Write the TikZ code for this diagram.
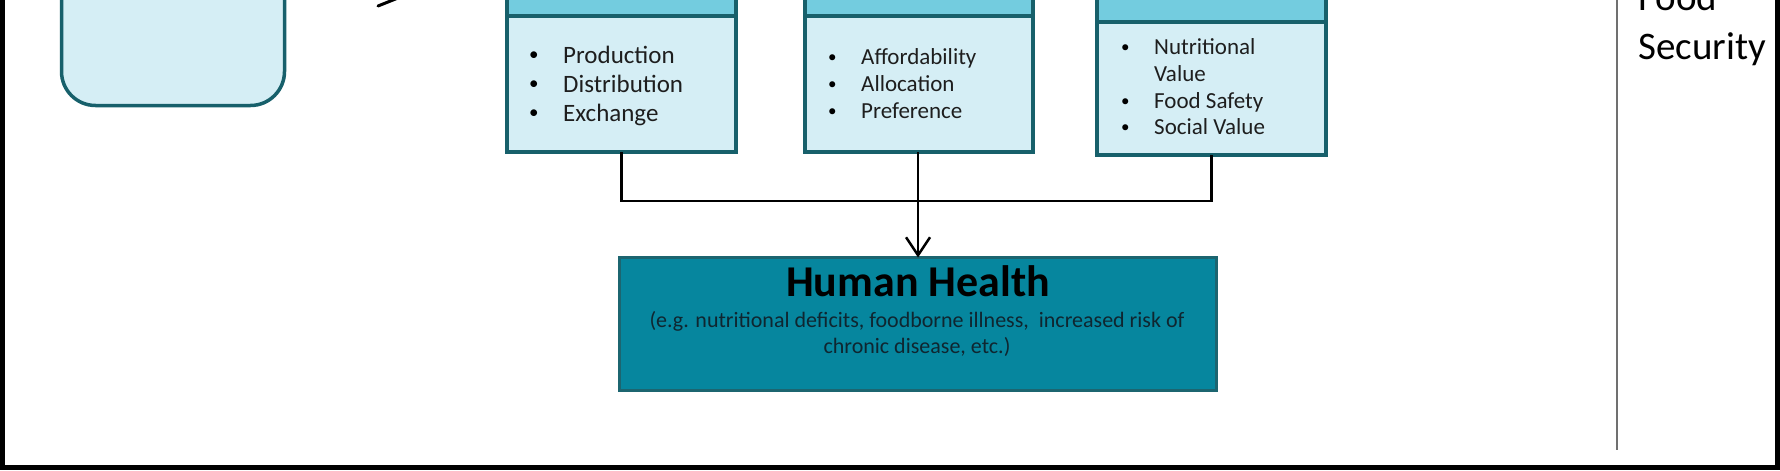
\documentclass[tikz,border=0pt]{standalone}
\usepackage{fontspec}
\setmainfont{Carlito}
\usetikzlibrary{arrows.meta}
\definecolor{hdr}{HTML}{73CCDF}
\definecolor{bodyc}{HTML}{D5EEF5}
\definecolor{edgec}{HTML}{17606B}
\definecolor{hhfill}{HTML}{06869E}
\definecolor{hhedge}{HTML}{1C6570}
\definecolor{txt}{HTML}{1E1E1E}
\definecolor{subtxt}{HTML}{0F2630}
\definecolor{grayline}{HTML}{707070}
\begin{document}
\begin{tikzpicture}[x=1pt,y=-1pt,
  hdrbox/.style={draw=edgec, fill=hdr, line width=4pt, inner sep=0pt, outer sep=0pt},
  bodybox/.style={draw=edgec, fill=bodyc, line width=4pt, inner sep=0pt, outer sep=0pt},
  leftbox/.style={draw=edgec, fill=bodyc, line width=3.5pt, rounded corners=34pt, inner sep=0pt, outer sep=0pt},
  hhbox/.style={draw=hhedge, fill=hhfill, line width=3pt, inner sep=0pt, outer sep=0pt},
  itemA/.style={anchor=base west, inner sep=0pt, text=txt, font=\fontsize{25}{30}\selectfont},
  itemB/.style={anchor=base west, inner sep=0pt, text=txt, font=\fontsize{23}{27}\selectfont},
  dotA/.style={anchor=base west, inner sep=0pt, text=black, font=\fontsize{19}{22}\selectfont, yshift=2.5pt},
  dotB/.style={anchor=base west, inner sep=0pt, text=black, font=\fontsize{17}{20}\selectfont, yshift=1.5pt},
  sidetext/.style={anchor=base west, inner sep=0pt, text=black, font=\fontsize{39}{46}\selectfont},
  conn/.style={draw=black, line width=2.5pt}
]
\useasboundingbox (0,0) rectangle (1780,471);
\clip (0,0) rectangle (1780,471);

% outer frame
\draw[line width=4.5pt] (2.5,-20) rectangle (1777.5,467.5);

% left rounded box (cut at top)
\node[leftbox, minimum width=223pt, minimum height=255.5pt] (lb) at (173,-22.25) {};

% arrow fragment at top
\coordinate (a1) at (378,6);
\coordinate (a2) at (423,-12);
\draw[line width=3pt, line cap=round] (a1) -- (a2);

% box 1
\node[bodybox, minimum width=229pt, minimum height=136pt] (b1b) at (621.5,84) {};
\node[hdrbox, minimum width=229pt, minimum height=56pt] (b1h) at (621.5,-12) {};
% box 2
\node[bodybox, minimum width=228pt, minimum height=136pt] (b2b) at (919,84) {};
\node[hdrbox, minimum width=228pt, minimum height=56pt] (b2h) at (919,-12) {};
% box 3
\node[bodybox, minimum width=229pt, minimum height=133pt] (b3b) at (1211.5,88.5) {};
\node[hdrbox, minimum width=229pt, minimum height=62pt] (b3h) at (1211.5,-9) {};

% box 1 items
\node[dotA] (b1d1) at (529,63) {•};
\node[itemA] (b1t1) at (563,63) {Production};
\node[dotA] (b1d2) at (529,92) {•};
\node[itemA] (b1t2) at (563,92) {Distribution};
\node[dotA] (b1d3) at (529,121) {•};
\node[itemA] (b1t3) at (563,121) {Exchange};

% box 2 items
\node[dotB] (b2d1) at (828,64) {•};
\node[itemB] (b2t1) at (861,64) {Affordability};
\node[dotB] (b2d2) at (828,91) {•};
\node[itemB] (b2t2) at (861,91) {Allocation};
\node[dotB] (b2d3) at (828,118) {•};
\node[itemB] (b2t3) at (861,118) {Preference};

% box 3 items
\node[dotB] (b3d1) at (1121,54) {•};
\node[itemB] (b3t1) at (1154,54) {Nutritional};
\node[itemB] (b3t1b) at (1154,81) {Value};
\node[dotB] (b3d2) at (1121,108) {•};
\node[itemB] (b3t2) at (1154,108) {Food Safety};
\node[dotB] (b3d3) at (1121,134) {•};
\node[itemB] (b3t3) at (1154,134) {Social Value};

% human health box
\node[hhbox, minimum width=597pt, minimum height=133pt] (hh) at (918,324) {};
\node[anchor=base, inner sep=0pt, text=black, font=\bfseries\fontsize{44}{44}\selectfont] (hht) at (918,296) {Human Health};
\node[anchor=base, inner sep=0pt, text=subtxt, font=\fontsize{22}{26}\selectfont] (hhs1) at (917,327) {(e.g. nutritional deficits, foodborne illness,\ \ increased risk of};
\node[anchor=base, inner sep=0pt, text=subtxt, font=\fontsize{22}{26}\selectfont] (hhs2) at (917,353) {chronic disease, etc.)};

% connectors
\coordinate (j) at (918,201);
\draw[conn] (b1b.south) |- (j) -| (b3b.south);
\draw[conn, -{Straight Barb[length=18pt,width=24pt,line width=2.5pt]}] (hh.north |- b2b.south) -- (hh.north);

% right divider and label
\coordinate (g1) at (1617,-5);
\coordinate (g2) at (1617,450);
\draw[grayline, line width=2.5pt] (g1) -- (g2);
\node[sidetext] (food) at (1638,10) {Food};
\node[sidetext] (sec) at (1638,59) {Security};
\end{tikzpicture}
\end{document}
